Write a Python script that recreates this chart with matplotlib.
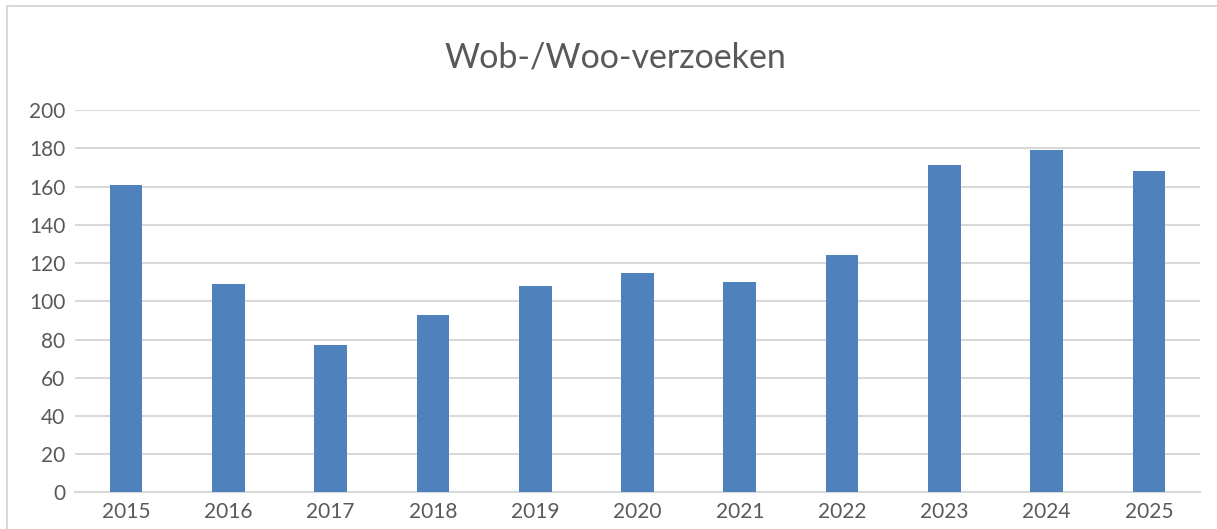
import matplotlib
matplotlib.use('Agg')
import matplotlib.pyplot as plt
from matplotlib.patches import Rectangle

plt.rcParams['font.family'] = ['Lato', 'DejaVu Sans']

years = ['2015', '2016', '2017', '2018', '2019', '2020', '2021', '2022', '2023', '2024', '2025']
requests = [161, 109, 77, 93, 108, 115, 110, 124, 171, 179, 168]

fig = plt.figure(figsize=(12.17, 5.29), dpi=100)
ax = fig.add_axes([0.0616, 0.069, 0.9245, 0.723])

# chart area border
fig.patches.append(Rectangle((7 / 1217, -0.01), 1.2, (529 - 6) / 529 + 0.01,
                             transform=fig.transFigure, fill=False,
                             edgecolor='#D9D9D9', linewidth=1.5))

x = range(len(years))
ax.bar(x, requests, width=0.32, color='#4F81BD', zorder=3)

ax.set_xlim(-0.5, len(years) - 0.5)
ax.set_ylim(0, 200)
ax.set_yticks(range(0, 201, 20))
ax.set_xticks(list(x))
ax.set_xticklabels(years)
ax.yaxis.grid(True, color='#D9D9D9', linewidth=1.5, zorder=0)
ax.set_axisbelow(True)

for s in ['top', 'right', 'left']:
    ax.spines[s].set_visible(False)
ax.spines['bottom'].set_color('#D9D9D9')
ax.spines['bottom'].set_linewidth(1.5)
ax.tick_params(axis='both', length=0, labelsize=15, colors='#595959')
ax.tick_params(axis='y', pad=7)
ax.tick_params(axis='x', pad=7)

fig.text(0.506, 0.891, 'Wob-/Woo-verzoeken', ha='center', va='center',
         fontsize=24.5, color='#595959')

fig.savefig('out.png', dpi=100)
